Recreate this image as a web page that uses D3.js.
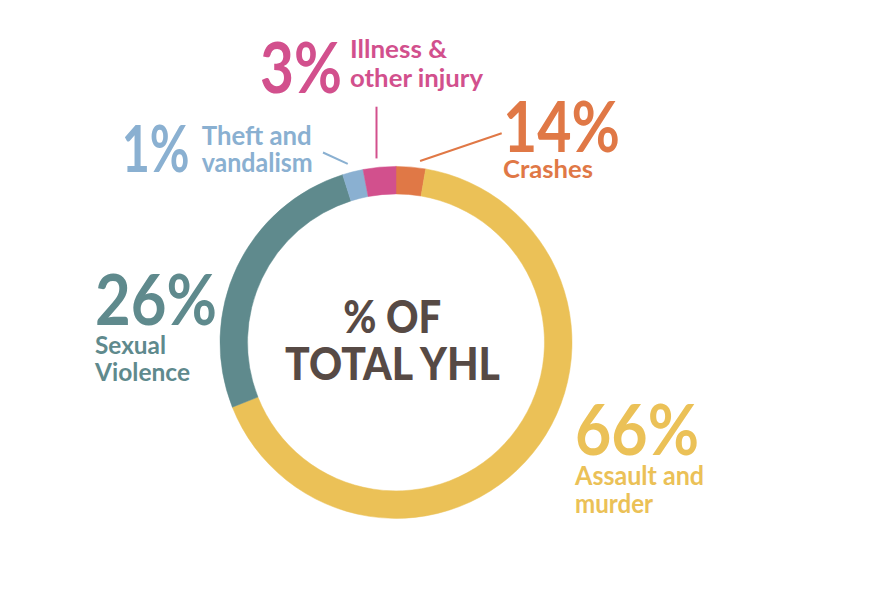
<!DOCTYPE html>
<html>
<head>
<meta charset="utf-8">
<script src="https://cdn.jsdelivr.net/npm/d3@7"></script>
<style>
  html, body { margin: 0; padding: 0; background: #ffffff; }
  svg { display: block; font-family: Lato, "Open Sans", sans-serif; }
</style>
</head>
<body>
<svg id="chart" width="869" height="601"></svg>
<script>
// ---- data ----
const categories = ["Crashes", "Assault and murder", "Sexual Violence", "Theft and vandalism", "Illness & other injury"];
const arcShares = [2.7, 66.3, 26.1, 1.9, 3.0];          // share of ring as drawn
const percentLabels = ["14%", "66%", "26%", "1%", "3%"]; // printed percentages
const labelLines = [["Crashes"], ["Assault and", "murder"], ["Sexual", "Violence"], ["Theft and", "vandalism"], ["Illness &", "other injury"]];
const colors = ["#E07846", "#EBC157", "#5F8A8D", "#8AB0D1", "#D2508D"];
const centerLines = ["% OF", "TOTAL YHL"];

// ---- layout ----
const W = 869, H = 601;
const cx = 396, cy = 342.4, rOuter = 176, rInner = 148.5;

// label layout: big number position/width, text lines positions/widths, leader line
const layout = [
  { num: { x: 503, y: 151.7, w: 117, fs: 70 }, lines: { x: 503, y: 178.3, lh: 28, w: [90], fs: 25 },
    leader: { dAngle: 2.7, r: 183, end: [501.7, 133.3] } },
  { num: { x: 575, y: 455, w: 124, fs: 70 }, lines: { x: 575, y: 485, lh: 28.3, w: [129, 78], fs: 26 } },
  { num: { x: 95, y: 325, w: 122, fs: 70 }, lines: { x: 95, y: 354.3, lh: 26.4, w: [71, 95], fs: 25 } },
  { num: { x: 121.7, y: 171.7, w: 68, fs: 65 }, lines: { x: 201.7, y: 145, lh: 26.7, w: [110, 111], fs: 26 },
    leader: { dAngle: -0.9, r: 185, end: [323, 152.5] } },
  { num: { x: 260, y: 93.3, w: 82, fs: 70 }, lines: { x: 350, y: 58.3, lh: 28.4, w: [97, 133], fs: 25 },
    leader: { dAngle: -0.65, r: 185, vertical: true, endY: 106.7 } }
];

const svg = d3.select("#chart");
const g = svg.append("g").attr("transform", `translate(${cx},${cy})`);

const pie = d3.pie().sort(null).value(d => d).startAngle(0).endAngle(2 * Math.PI);
const arcs = pie(arcShares);
const arcGen = d3.arc().innerRadius(rInner).outerRadius(rOuter);

g.selectAll("path.slice")
  .data(arcs)
  .join("path")
  .attr("class", "slice")
  .attr("d", arcGen)
  .attr("fill", (d, i) => colors[i])
  .attr("stroke", (d, i) => colors[i])
  .attr("stroke-width", 0.5);

// leader lines
arcs.forEach((a, i) => {
  const L = layout[i].leader;
  if (!L) return;
  const ang = (a.startAngle + a.endAngle) / 2 + L.dAngle * Math.PI / 180;
  const sx = cx + L.r * Math.sin(ang);
  const sy = cy - L.r * Math.cos(ang);
  const ex = L.vertical ? sx : L.end[0];
  const ey = L.vertical ? L.endY : L.end[1];
  svg.append("line")
    .attr("x1", sx).attr("y1", sy).attr("x2", ex).attr("y2", ey)
    .attr("stroke", colors[i]).attr("stroke-width", 2);
});

// labels
categories.forEach((c, i) => {
  const Lo = layout[i];
  svg.append("text")
    .attr("x", Lo.num.x).attr("y", Lo.num.y)
    .attr("font-size", Lo.num.fs)
    .attr("font-weight", 700)
    .attr("fill", colors[i])
    .attr("textLength", Lo.num.w)
    .attr("lengthAdjust", "spacingAndGlyphs")
    .text(percentLabels[i]);
  labelLines[i].forEach((t, j) => {
    svg.append("text")
      .attr("x", Lo.lines.x).attr("y", Lo.lines.y + j * Lo.lines.lh)
      .attr("font-size", Lo.lines.fs)
      .attr("font-weight", 700)
      .attr("fill", colors[i])
      .attr("textLength", Lo.lines.w[j])
      .attr("lengthAdjust", "spacingAndGlyphs")
      .text(t);
  });
});

// center text
const centerLayout = [{ x: 343.3, y: 333.3, w: 98 }, { x: 285, y: 380, w: 215 }];
centerLines.forEach((t, j) => {
  svg.append("text")
    .attr("x", centerLayout[j].x).attr("y", centerLayout[j].y)
    .attr("font-size", 45)
    .attr("font-weight", 900)
    .attr("fill", "#574A45")
    .attr("textLength", centerLayout[j].w)
    .attr("lengthAdjust", "spacingAndGlyphs")
    .text(t);
});
</script>
</body>
</html>
